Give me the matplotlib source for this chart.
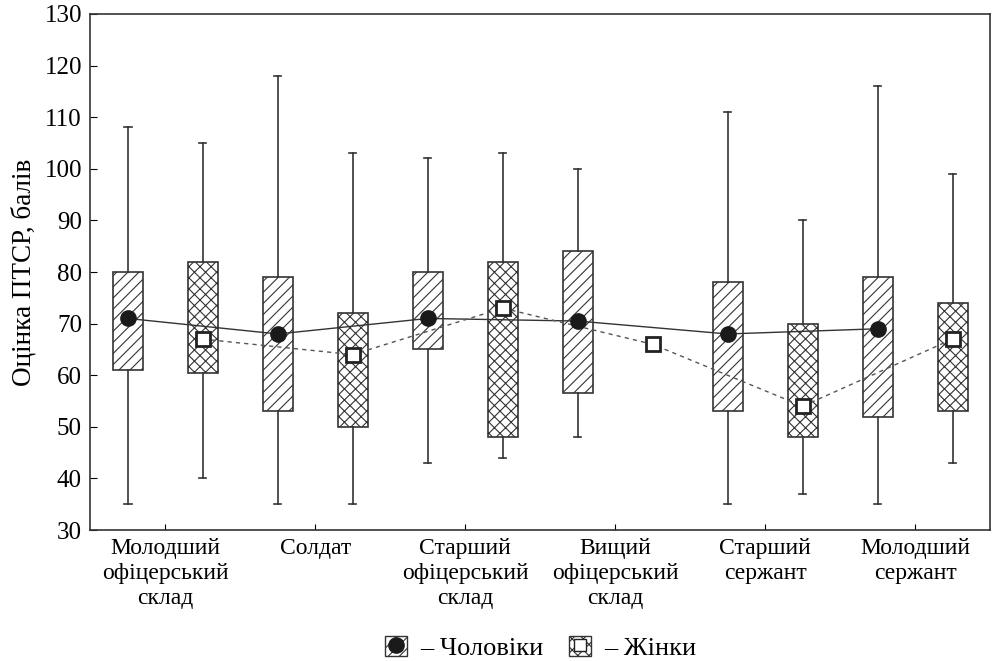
import matplotlib.pyplot as plt
from matplotlib.patches import Patch
from matplotlib.lines import Line2D

plt.rcParams['font.family'] = ['Liberation Serif', 'DejaVu Serif']
plt.rcParams['hatch.linewidth'] = 0.8

groups = ['Молодший\nофіцерський\nсклад', 'Солдат', 'Старший\nофіцерський\nсклад',
          'Вищий\nофіцерський\nсклад', 'Старший\nсержант', 'Молодший\nсержант']

# male: whisker low, q1, q3, whisker high, point
m_lo = [35, 35, 43, 48, 35, 35]
m_q1 = [61, 53, 65, 56.5, 53, 52]
m_q3 = [80, 79, 80, 84, 78, 79]
m_hi = [108, 118, 102, 100, 111, 116]
m_pt = [71, 68, 71, 70.5, 68, 69]

# female (group 4 has only a point)
f_lo = [40, 35, 44, None, 37, 43]
f_q1 = [60.5, 50, 48, None, 48, 53]
f_q3 = [82, 72, 82, None, 70, 74]
f_hi = [105, 103, 103, None, 90, 99]
f_pt = [67, 64, 73, 66, 54, 67]

fig = plt.figure(figsize=(9.92, 6.61), dpi=100)
ax = fig.add_axes([0.091, 0.198, 0.907, 0.781])

xm = [i - 0.25 for i in range(6)]
xf = [i + 0.25 for i in range(6)]

def stats(lo, q1, q3, hi, pt):
    return dict(whislo=lo, q1=q1, med=pt, q3=q3, whishi=hi, fliers=[])

mstats = [stats(*v) for v in zip(m_lo, m_q1, m_q3, m_hi, m_pt)]
fidx = [i for i in range(6) if f_q1[i] is not None]
fstats = [stats(f_lo[i], f_q1[i], f_q3[i], f_hi[i], f_pt[i]) for i in fidx]

common = dict(widths=0.2, capwidths=0.05, patch_artist=True, showfliers=False,
              medianprops=dict(linewidth=0),
              whiskerprops=dict(color='#333333', linewidth=1.2),
              capprops=dict(color='#333333', linewidth=1.2),
              zorder=2)
bm = ax.bxp(mstats, positions=xm, **common)
bf = ax.bxp(fstats, positions=[xf[i] for i in fidx], **common)
for b in bm['boxes']:
    b.set(facecolor='white', edgecolor='#333333', hatch='///', linewidth=1.2)
for b in bf['boxes']:
    b.set(facecolor='white', edgecolor='#333333', hatch='xxx', linewidth=1.2)

ax.plot(xm, m_pt, '-', color='#333333', linewidth=1.0, zorder=3)
ax.plot(xf, f_pt, '--', color='#555555', linewidth=1.0, dashes=(3, 3), zorder=3)
ax.plot(xm, m_pt, 'o', color='#1a1a1a', markersize=11, zorder=4)
ax.plot(xf, f_pt, 's', markerfacecolor='white', markeredgecolor='#222222',
        markeredgewidth=2, markersize=10, zorder=4)

ax.set_xlim(-0.5, 5.5)
ax.set_ylim(30, 130)
ax.set_yticks(range(30, 131, 10))
ax.set_xticks(range(6))
ax.set_xticklabels(groups, fontsize=17, linespacing=1.25)
ax.tick_params(axis='y', labelsize=18, direction='in', length=5, pad=6)
ax.tick_params(axis='x', direction='in', length=4, pad=6)
ax.set_ylabel('Оцінка ПТСР, балів', fontsize=19.5, labelpad=6)
for s in ax.spines.values():
    s.set_color('#333333')
    s.set_linewidth(1.2)

h_m = (Patch(facecolor='white', edgecolor='#333333', hatch='///'),
       Line2D([], [], marker='o', color='#1a1a1a', linestyle='none', markersize=11))
h_f = (Patch(facecolor='white', edgecolor='#333333', hatch='xxx'),
       Line2D([], [], marker='s', markerfacecolor='white', markeredgecolor='#222222',
              linestyle='none', markersize=8))
fig.legend([h_m, h_f], ['– Чоловіки', '– Жінки'], loc='center',
           bbox_to_anchor=(0.545, 0.02), ncol=2, frameon=False, fontsize=19,
           handlelength=0.8, handleheight=0.8, handletextpad=0.5, columnspacing=1.0)

fig.savefig('out.png', dpi=100)
